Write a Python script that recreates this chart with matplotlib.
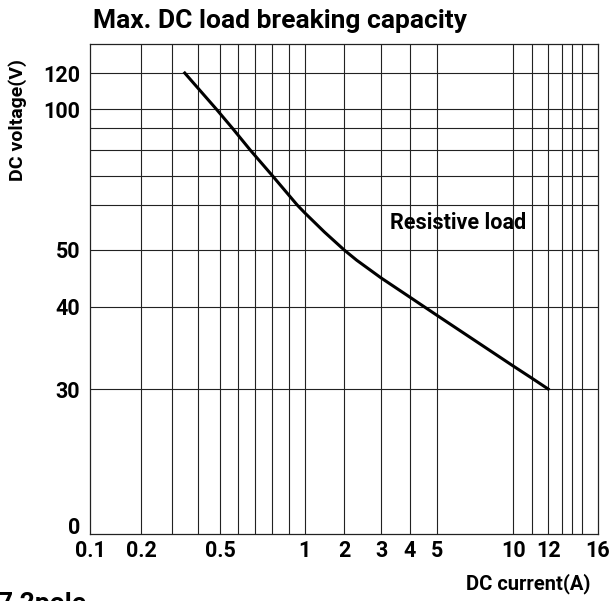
# libraries
import numpy as np
import matplotlib
matplotlib.use('Agg')
import matplotlib.pyplot as plt
import matplotlib.transforms as mtransforms

# data: breaking capacity curve (resistive load)
current = [0.35, 0.482, 0.568, 0.673, 0.806, 0.953, 1.0, 1.5, 2.0, 2.34, 3.0, 4.0, 5.0, 10.0, 11.0, 12.0]
voltage = [120, 100, 90, 80, 70, 60, 58.3, 54.0, 50, 48.2, 45.1, 41.7, 39.0, 32.8, 31.3, 30]

# axis grid values and tick labels
xgrid = [0.1, 0.2, 0.3, 0.4, 0.5, 0.6, 0.7, 0.8, 0.9, 1, 2, 3, 4, 5, 10, 11, 12, 13, 14, 15, 16]
xticks = [0.1, 0.2, 0.5, 1, 2, 3, 4, 5, 10, 12, 16]
xticklabels = ['0.1', '0.2', '0.5', '1', '2', '3', '4', '5', '10', '12', '16']
ygrid = [0, 30, 40, 50, 60, 70, 80, 90, 100, 120, 140]
yticks = [0, 30, 40, 50, 100, 120]
yticklabels = ['0', '30', '40', '50', '100', '120']

# the printed chart uses a hand drawn, non uniform scale:
# fraction of the axis length at which each grid value sits
xfrac = [0, 0.1012, 0.1606, 0.2124, 0.2564, 0.2911, 0.3243, 0.3575, 0.3915, 0.4224,
         0.5004, 0.5730, 0.6301, 0.6826, 0.8332, 0.8703, 0.9019, 0.9282, 0.9498, 0.9691, 1.0]
yfrac = [0, 0.2959, 0.4633, 0.5796, 0.6714, 0.7306, 0.7837, 0.8286, 0.8673, 0.9408, 1.0]

def xfwd(v):
    return np.interp(v, xgrid, xfrac)
def xinv(p):
    return np.interp(p, xfrac, xgrid)
def yfwd(v):
    return np.interp(v, ygrid, yfrac)
def yinv(p):
    return np.interp(p, yfrac, ygrid)

plt.rcParams['font.family'] = ['Roboto', 'DejaVu Sans']

fig = plt.figure(figsize=(6.15, 6.01), dpi=100)
ax = fig.add_axes([90/615, 67/601, 508/615, 490/601])

ax.set_xscale('function', functions=(xfwd, xinv))
ax.set_yscale('function', functions=(yfwd, yinv))
ax.set_xlim(0.1, 16)
ax.set_ylim(0, 140)

# grid
for g in xgrid[1:-1]:
    ax.axvline(g, color='#222222', lw=0.8, zorder=1)
for g in ygrid[1:-1]:
    ax.axhline(g, color='#222222', lw=0.8, zorder=1)

# curve
ax.plot(current, voltage, color='black', lw=2.2, zorder=3, solid_joinstyle='round')
ax.text(6.4, 56, 'Resistive load', ha='center', va='center', fontsize=15.5, fontweight='bold')

ax.set_xticks(xticks)
ax.set_xticklabels(xticklabels)
ax.set_yticks(yticks)
ax.set_yticklabels(yticklabels)
ax.minorticks_off()
ax.tick_params(length=0, labelsize=15.5)
ax.tick_params(axis='x', pad=4)
ax.tick_params(axis='y', pad=7)
for lab in ax.get_xticklabels() + ax.get_yticklabels():
    lab.set_fontweight('bold')

# the "0" label sits a bit above the bottom line in the original
zero = ax.get_yticklabels()[0]
zero.set_transform(zero.get_transform() + mtransforms.ScaledTranslation(0, 6/72, fig.dpi_scale_trans))

for s in ax.spines.values():
    s.set_color('#222222')
    s.set_linewidth(0.9)

fig.text(93/615, 1 - 21/601, 'Max. DC load breaking capacity', ha='left', va='center',
         fontsize=19, fontweight='bold')
fig.text(18/615, 1 - 120/601, 'DC voltage(V)', rotation=90, ha='center', va='center',
         fontsize=14, fontweight='bold')
fig.text(590/615, 1 - 584/601, 'DC current(A)', ha='right', va='center',
         fontsize=14.5, fontweight='bold')
fig.text(-2/615, -10/601, '7 2pole', ha='left', va='baseline', fontsize=19, fontweight='bold')

fig.savefig('out.png', dpi=100)
